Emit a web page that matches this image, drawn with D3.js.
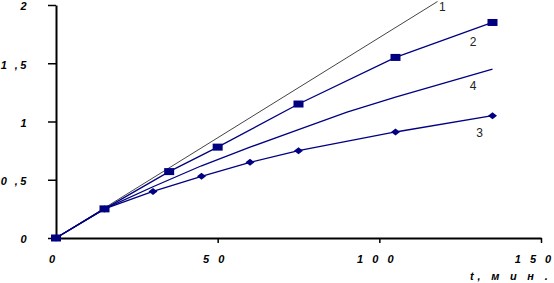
<!DOCTYPE html>
<html><head><meta charset="utf-8">
<script src="https://cdn.jsdelivr.net/npm/d3@7"></script>
<style>body{margin:0;background:#fff}svg{display:block}</style>
</head><body>
<svg id="c" width="554" height="283"></svg>
<script>
// ---- data ----
const line1X = [0, 118];
const line1Y = [0, 2.03];
const s2X = [0, 15, 35, 50, 75, 105, 135];
const s2Y = [0, 0.25, 0.57, 0.78, 1.15, 1.55, 1.85];
const s3X = [0, 15, 30, 45, 60, 75, 105, 135];
const s3Y = [0, 0.25, 0.40, 0.53, 0.65, 0.75, 0.91, 1.05];
const s4X = [0, 15, 30, 45, 60, 75, 90, 105, 120, 135];
const s4Y = [0, 0.25, 0.44, 0.62, 0.78, 0.93, 1.08, 1.21, 1.33, 1.45];
const curveLabels = ["1", "2", "3", "4"];
const curveLabelAt = [[119.5, 1.985], [129, 1.68], [131, 0.9], [129, 1.31]];
const xTicks = [0, 50, 100, 150];
const xTickLabels = ["0", "5 0", "1 0 0", "1 5 0"];
const yTicks = [0, 0.5, 1, 1.5, 2];
const yTickLabels = ["0", "0 ,5", "1", "1 ,5", "2"];
const xTitle = "t, м и н .";

// ---- drawing ----
const svg = d3.select("#c");
const x = d3.scaleLinear().domain([0, 150]).range([56, 541]);
const y = d3.scaleLinear().domain([0, 2]).range([238, 5]);
const navy = "#000080";
const font = "'Liberation Sans', Arial, sans-serif";

// axes
const ya = svg.append("g").attr("transform", `translate(${x(0)},0)`)
  .call(d3.axisLeft(y).tickValues(yTicks).tickSize(8).tickSizeOuter(0)
    .tickFormat((d, i) => yTickLabels[i]));
const xa = svg.append("g").attr("transform", `translate(0,${y(0)})`)
  .call(d3.axisBottom(x).tickValues(xTicks).tickSize(5).tickSizeOuter(0)
    .tickFormat((d, i) => xTickLabels[i]));
[ya, xa].forEach(g => {
  g.select(".domain").attr("stroke", "#000").attr("stroke-width", 2);
  g.selectAll(".tick line").attr("stroke", "#000").attr("stroke-width", 1.5);
  g.selectAll(".tick text").attr("font-family", font).attr("font-size", 11)
    .attr("font-weight", "bold").attr("font-style", "italic").attr("fill", "#000");
});
ya.selectAll(".tick text").attr("letter-spacing", "2.5px").attr("text-anchor", "end")
  .attr("x", 29 - 56).attr("dy", "0.45em");
xa.selectAll(".tick line").filter(d => d === 0).remove();
xa.selectAll(".tick text").attr("letter-spacing", "3px")
  .attr("dy", 0).attr("y", 25).attr("x", d => d === 150 ? -7 : -3);

svg.append("text").attr("x", 470).attr("y", 280).attr("text-anchor", "start")
  .attr("font-family", font).attr("font-size", 11).attr("font-weight", "bold")
  .attr("font-style", "italic").attr("letter-spacing", "3.8px").text(xTitle);

const line = d3.line().x(d => x(d[0])).y(d => y(d[1]));
const zip = (a, b) => a.map((v, i) => [v, b[i]]);

svg.append("path").datum(zip(line1X, line1Y)).attr("d", line)
  .attr("fill", "none").attr("stroke", "#444").attr("stroke-width", 1);
[[s4X, s4Y], [s3X, s3Y], [s2X, s2Y]].forEach(([a, b]) => {
  svg.append("path").datum(zip(a, b)).attr("d", line)
    .attr("fill", "none").attr("stroke", navy).attr("stroke-width", 1.3);
});

// diamonds (series 3)
svg.selectAll(".dm").data(zip(s3X, s3Y)).enter().append("path")
  .attr("d", d => { const cx = x(d[0]), cy = y(d[1]);
    return `M${cx - 4.5},${cy}L${cx},${cy - 3.5}L${cx + 4.5},${cy}L${cx},${cy + 3.5}Z`; })
  .attr("fill", navy);
// squares (series 2)
svg.selectAll(".sq").data(zip(s2X, s2Y)).enter().append("rect")
  .attr("x", d => x(d[0]) - 5).attr("y", d => y(d[1]) - 3.5)
  .attr("width", 10).attr("height", 7).attr("fill", navy);

svg.selectAll(".cl").data(curveLabels).enter().append("text")
  .attr("x", (d, i) => x(curveLabelAt[i][0])).attr("y", (d, i) => y(curveLabelAt[i][1]))
  .attr("dy", "0.35em").attr("text-anchor", "middle")
  .attr("font-family", font).attr("font-size", 12).attr("fill", "#222").text(d => d);
</script>
</body></html>
